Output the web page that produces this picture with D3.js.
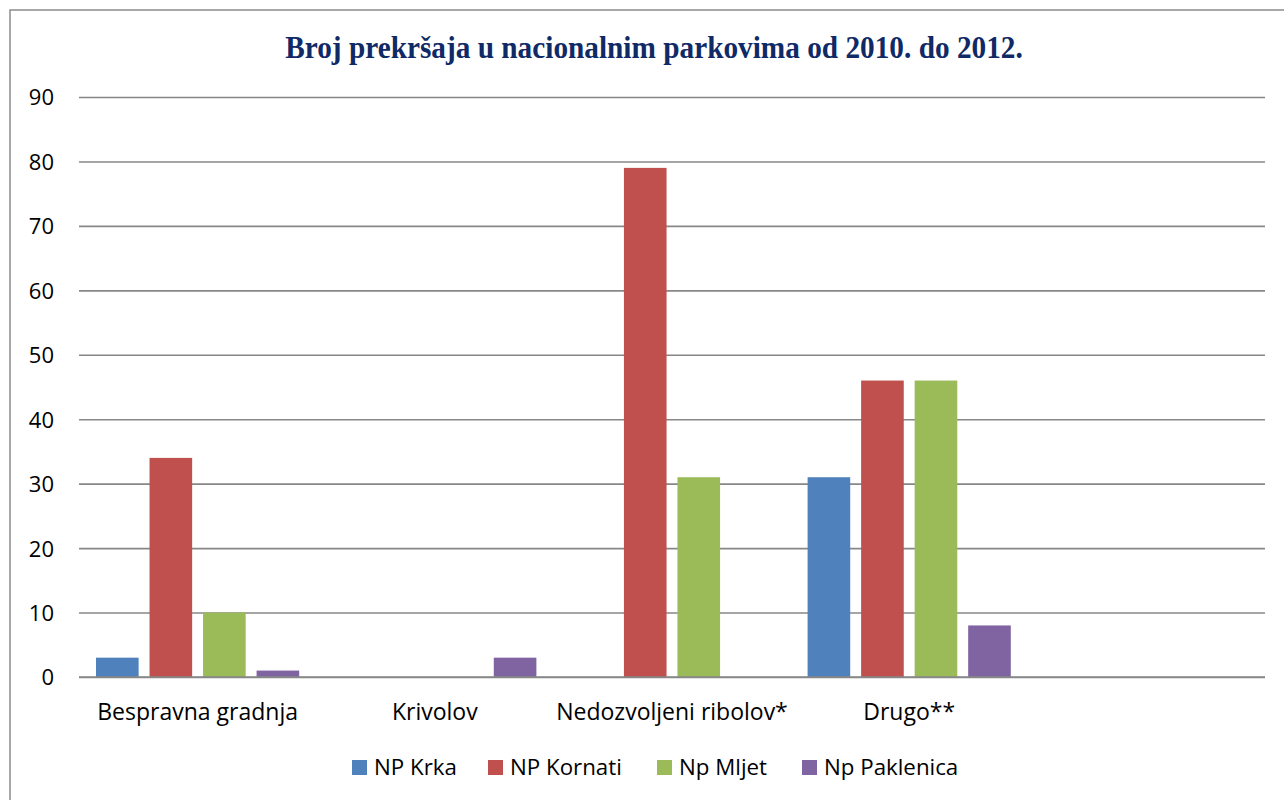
<!DOCTYPE html>
<html>
<head>
<meta charset="utf-8">
<script src="https://cdn.jsdelivr.net/npm/d3@7"></script>
<style>
  html, body { margin: 0; padding: 0; background: #fff; }
  svg { display: block; }
</style>
</head>
<body>
<svg id="chart" width="1284" height="800"></svg>
<script>
const title = "Broj prekršaja u nacionalnim parkovima od 2010. do 2012.";
const categories = ["Bespravna gradnja", "Krivolov", "Nedozvoljeni ribolov*", "Drugo**", ""];
const seriesNames = ["NP Krka", "NP Kornati", "Np Mljet", "Np Paklenica"];
const seriesColors = ["#4F81BD", "#C0504D", "#9BBB59", "#8064A2"];
const krka = [3, 0, 0, 31, null];
const kornati = [34, 0, 79, 46, null];
const mljet = [10, 0, 31, 46, null];
const paklenica = [1, 3, 0, 8, null];
const yTicks = [0, 10, 20, 30, 40, 50, 60, 70, 80, 90];

const seriesValues = [krka, kornati, mljet, paklenica];

const svg = d3.select("#chart");
const W = 1284, H = 800;
const plot = { left: 79, right: 1265, top: 97, bottom: 677 };

// outer border
svg.append("rect")
  .attr("x", 10).attr("y", 10)
  .attr("width", W + 10).attr("height", H + 10)
  .attr("fill", "#fff").attr("stroke", "#8c8c8c").attr("stroke-width", 1.5);

// title
svg.append("text")
  .attr("transform", "translate(654,58) scale(1,1.1)")
  .attr("text-anchor", "middle")
  .attr("font-family", "'Liberation Serif', 'Times New Roman', serif")
  .attr("font-weight", "bold")
  .attr("font-size", 29.3)
  .attr("fill", "#0F2A66")
  .text(title);

const y = d3.scaleLinear().domain([0, 90]).range([plot.bottom, plot.top]);
const x0 = d3.scaleBand().domain(d3.range(categories.length)).range([plot.left, plot.right]).paddingInner(0).paddingOuter(0);
const bw = x0.bandwidth();
const x1 = d3.scaleBand().domain(d3.range(seriesNames.length))
  .range([17, bw - 17]).paddingInner(11 / 54).paddingOuter(0);

// gridlines via axis
const yAxis = d3.axisLeft(y).tickValues(yTicks).tickSize(-(plot.right - plot.left)).tickPadding(25).tickFormat(d3.format("d"));
const gAxis = svg.append("g").attr("transform", `translate(${plot.left},0)`).call(yAxis);
gAxis.select(".domain").remove();
gAxis.selectAll(".tick line").attr("stroke", "#878787").attr("stroke-width", 1.6);
gAxis.selectAll(".tick text")
  .attr("font-family", "'Open Sans', sans-serif")
  .attr("font-size", 22)
  .attr("fill", "#000")
  .attr("dy", "0.36em");

// bars
const data = [];
categories.forEach((c, ci) => {
  seriesValues.forEach((vals, si) => {
    if (vals[ci] != null) data.push({ ci, si, v: vals[ci] });
  });
});
svg.append("g").selectAll("rect").data(data).join("rect")
  .attr("x", d => x0(d.ci) + x1(d.si))
  .attr("y", d => y(d.v))
  .attr("width", x1.bandwidth())
  .attr("height", d => y(0) - y(d.v))
  .attr("fill", d => seriesColors[d.si]);

// redraw zero line on top
svg.append("line")
  .attr("x1", plot.left).attr("x2", plot.right)
  .attr("y1", y(0)).attr("y2", y(0))
  .attr("stroke", "#878787").attr("stroke-width", 1.6);

// category labels
const xAxis = d3.axisBottom(x0).tickSize(0).tickPadding(0).tickFormat(i => categories[i]);
const gx = svg.append("g").attr("transform", `translate(0,${plot.bottom})`).call(xAxis);
gx.select(".domain").remove();
gx.selectAll(".tick text")
  .attr("font-family", "'Open Sans', sans-serif")
  .attr("font-size", 23)
  .attr("fill", "#000")
  .attr("dy", 0)
  .attr("y", 43);

// legend
const legendX = [352, 488, 657, 802];
const lg = svg.append("g").selectAll("g").data(seriesNames).join("g")
  .attr("transform", (d, i) => `translate(${legendX[i]},760)`);
lg.append("rect").attr("width", 15).attr("height", 15).attr("fill", (d, i) => seriesColors[i]);
lg.append("text")
  .attr("x", 22).attr("y", 15)
  .attr("font-family", "'Open Sans', sans-serif")
  .attr("font-size", 22.3)
  .attr("fill", "#000")
  .text(d => d);
</script>
</body>
</html>
